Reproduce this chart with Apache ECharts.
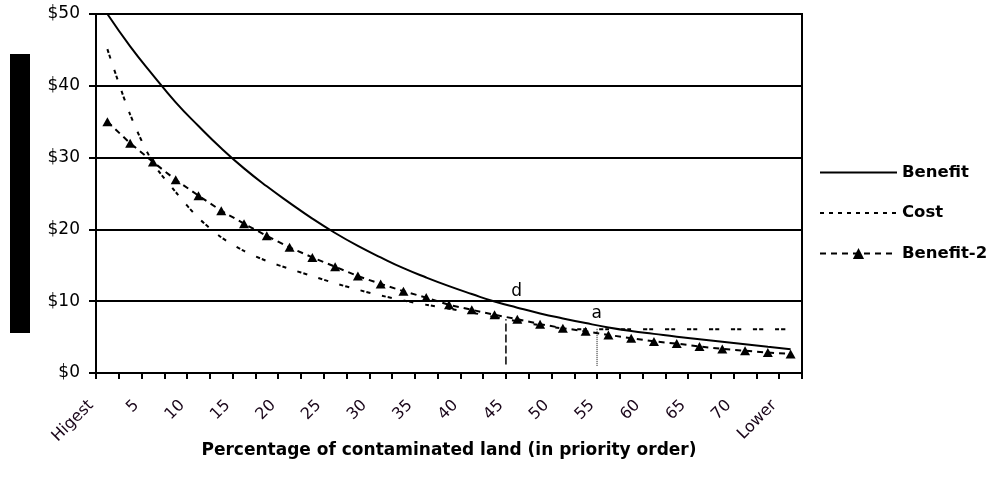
<!DOCTYPE html>
<html><head><meta charset="utf-8">
<script src="https://cdn.jsdelivr.net/npm/echarts@6/dist/echarts.min.js"></script>
<style>html,body{margin:0;padding:0;background:#fff}#c{width:987px;height:489px}</style>
</head><body><div id="c"></div>
<script>
// 31 priority positions (categories)
const categories = ['1','2','3','4','5','6','7','8','9','10','11','12','13','14','15','16',
  '17','18','19','20','21','22','23','24','25','26','27','28','29','30','31'];
// tick labels shown at every second category boundary
const tickLabels = ['Higest','5','10','15','20','25','30','35','40','45','50','55','60','65','70','Lower'];
const yTicks = [0, 10, 20, 30, 40, 50];

const benefit = [50, 45.5, 41.5, 37.7, 34.4, 31.3, 28.5, 26.0, 23.7, 21.5, 19.5, 17.7, 16.1, 14.6, 13.3, 12.1,
  11.0, 9.95, 9.1, 8.3, 7.6, 6.95, 6.35, 5.85, 5.45, 5.05, 4.7, 4.35, 4.0, 3.65, 3.3];
const cost = [45.1, 36.0, 29.3, 25.2, 21.6, 18.9, 17.0, 15.6, 14.5, 13.5, 12.5, 11.6, 10.8, 10.1, 9.5, 8.95,
  8.4, 7.8, 7.2, 6.65, 6.2, 6.1, 6.1, 6.1, 6.1, 6.1, 6.1, 6.1, 6.1, 6.1, 6.1];
const benefit2 = [35.0, 32.0, 29.4, 26.9, 24.7, 22.6, 20.8, 19.1, 17.5, 16.1, 14.8, 13.5, 12.4, 11.4, 10.5, 9.5,
  8.8, 8.1, 7.5, 6.8, 6.25, 5.8, 5.3, 4.85, 4.4, 4.1, 3.7, 3.35, 3.1, 2.85, 2.65];

// annotations, in category-boundary units (x) and dollars (y)
const dropLineD = [[18, 1.2], [18, 7.5]];
const dropLineA = [[22, 1.0], [22, 6.25]];
const annotationLabels = [{name: 'd', value: [18.47, 11.3]}, {name: 'a', value: [21.99, 8.25]}];

const FONT = 'DejaVu Sans';
// label slots at each category boundary (32 boundaries), labels every second one
const labelSlots = [];
for (let i = 0; i <= categories.length; i++) labelSlots.push(i % 2 === 0 ? (tickLabels[i / 2] || '') : '');

const chart = echarts.init(document.getElementById('c'), null, {renderer: 'canvas'});
chart.setOption({
  animation: false,
  backgroundColor: '#fff',
  grid: {left: 96, right: 185, top: 14, bottom: 116, show: true, borderColor: '#000', borderWidth: 2, backgroundColor: 'transparent'},
  legend: {
    orient: 'vertical', left: 819, top: 164, padding: 0, itemWidth: 77, itemHeight: 14, itemGap: 23.5,
    data: [
      {name: 'Benefit', itemStyle: {opacity: 0}},
      {name: 'Cost', itemStyle: {opacity: 0}, lineStyle: {type: [4, 5]}},
      {name: 'Benefit-2'}
    ],
    textStyle: {fontFamily: FONT, fontWeight: 'bold', fontSize: 16.5, color: '#000'}
  },
  xAxis: [
    {
      type: 'category', data: categories, boundaryGap: true, position: 'bottom',
      axisLine: {show: true, onZero: false, lineStyle: {color: '#000', width: 2}},
      axisTick: {show: true, interval: 0, length: 6, lineStyle: {color: '#000', width: 2}},
      axisLabel: {show: false},
      splitLine: {show: false},
      name: 'Percentage of contaminated land (in priority order)',
      nameLocation: 'middle', nameGap: 69,
      nameTextStyle: {fontFamily: FONT, fontWeight: 'bold', fontSize: 17, color: '#000'}
    },
    {
      type: 'category', data: labelSlots, boundaryGap: false, position: 'bottom',
      axisLine: {show: false, onZero: false}, axisTick: {show: false}, splitLine: {show: false},
      axisLabel: {interval: 0, rotate: 45, margin: 25, padding: [0, 7, 0, 0],
        fontFamily: FONT, fontSize: 16, color: '#1a061a'}
    },
    {type: 'value', min: 0, max: categories.length, show: false, axisLine: {onZero: false}}
  ],
  yAxis: {
    type: 'value', min: yTicks[0], max: yTicks[yTicks.length - 1], interval: 10,
    axisLine: {show: true, lineStyle: {color: '#000', width: 2}},
    axisTick: {show: true, length: 7, lineStyle: {color: '#000', width: 2}},
    axisLabel: {margin: 16, fontFamily: FONT, fontSize: 17, color: '#000', formatter: v => '$' + v},
    splitLine: {show: true, lineStyle: {color: '#000', width: 2}}
  },
  series: [
    {name: 'Benefit', type: 'line', data: benefit, smooth: 0.5, symbol: 'none', z: 5,
      lineStyle: {color: '#000', width: 2}, itemStyle: {color: '#000'}},
    {name: 'Cost', type: 'line', data: cost, smooth: 0.3, symbol: 'none', z: 3,
      lineStyle: {color: '#000', width: 2, type: [4, 2, 4, 12]}, itemStyle: {color: '#000'}},
    {name: 'Benefit-2', type: 'line', data: benefit2, smooth: false, symbol: 'triangle', symbolSize: [10, 9], z: 4,
      lineStyle: {color: '#000', width: 2, type: [6, 5]}, itemStyle: {color: '#000'}},
    {type: 'line', xAxisIndex: 2, data: dropLineD, symbol: 'none', silent: true,
      lineStyle: {color: '#000', width: 1.5, type: [8, 3]}},
    {type: 'line', xAxisIndex: 2, data: dropLineA, symbol: 'none', silent: true,
      lineStyle: {color: '#000', width: 1, type: [1, 1]}}
  ]
});

// redacted axis title block + annotation letters placed through the chart's own scales
const graphics = [{type: 'rect', left: 10, top: 54, shape: {width: 20, height: 279}, style: {fill: '#000'}}];
annotationLabels.forEach(a => {
  const p = chart.convertToPixel({xAxisIndex: 2, yAxisIndex: 0}, a.value);
  graphics.push({type: 'text', x: p[0], y: p[1], z: 10,
    style: {text: a.name, fill: '#000', font: '17px "DejaVu Sans"', align: 'center', verticalAlign: 'middle'}});
});
chart.setOption({graphic: graphics});
</script></body></html>
